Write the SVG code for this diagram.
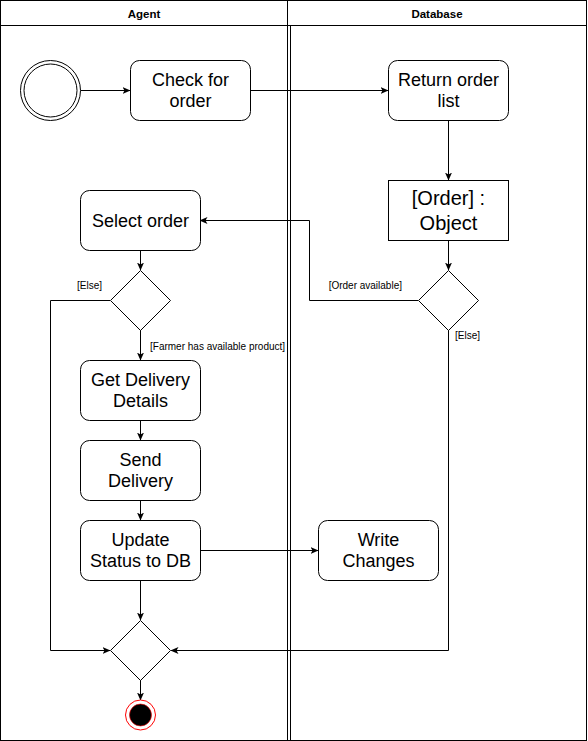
<svg xmlns="http://www.w3.org/2000/svg" width="588" height="741" viewBox="0 0 588 741">
  <style>
    .lane { fill: none; stroke: #000; stroke-width: 1; }
    .hdr { font-family: "Liberation Sans", Arial, sans-serif; font-size: 11.5px; font-weight: bold; fill: #000; text-anchor: middle; }
    .act { fill: #fff; stroke: #000; stroke-width: 1; }
    .txt { font-family: "Liberation Sans", Arial, sans-serif; font-size: 18px; fill: #000; text-anchor: middle; }
    .big { font-size: 20px; }
    .lbl { font-family: "Liberation Sans", Arial, sans-serif; font-size: 10px; fill: #000; }
    .edge { fill: none; stroke: #000; stroke-width: 1; }
    .arr { marker-end: url(#arrow); }
  </style>
  <defs>
    <marker id="arrow" viewBox="0 0 8 7" refX="7.5" refY="3.5" markerWidth="8" markerHeight="7" markerUnits="userSpaceOnUse" orient="auto">
      <path d="M0,0 L8,3.5 L0,7 L2,3.5 z" fill="#000"/>
    </marker>
  </defs>
  <rect width="588" height="741" fill="#fff"/>

  <!-- swimlanes -->
  <g id="lanes">
    <rect class="lane" x="0.5" y="0.5" width="586" height="740"/>
    <line class="lane" x1="0.5" y1="25.5" x2="586.5" y2="25.5"/>
    <line class="lane" x1="287.5" y1="0.5" x2="287.5" y2="740.5"/>
    <line class="lane" x1="290.5" y1="25.5" x2="290.5" y2="740.5"/>
    <text class="hdr" x="144" y="18">Agent</text>
    <text class="hdr" x="437" y="18">Database</text>
  </g>

  <!-- connectors -->
  <g id="connectors">
    <path class="edge arr" d="M80.5,90.5 H130"/>
    <path class="edge arr" d="M250,90.5 H388"/>
    <path class="edge arr" d="M448.5,120 V180"/>
    <path class="edge arr" d="M448.5,240 V270"/>
    <path class="edge arr" d="M418,300.5 H309.5 V220.5 H200"/>
    <path class="edge arr" d="M448.5,330 V650.5 H171"/>
    <path class="edge arr" d="M140.5,250 V270"/>
    <path class="edge arr" d="M110,300.5 H50.5 V650.5 H110"/>
    <path class="edge arr" d="M140.5,330 V360"/>
    <path class="edge arr" d="M140.5,420 V440"/>
    <path class="edge arr" d="M140.5,500 V520"/>
    <path class="edge arr" d="M200,550.5 H318"/>
    <path class="edge arr" d="M140.5,580 V620"/>
    <path class="edge arr" d="M140.5,680 V700"/>
    <text class="lbl" x="402" y="289" text-anchor="end">[Order available]</text>
    <text class="lbl" x="455" y="339">[Else]</text>
    <text class="lbl" x="77" y="289">[Else]</text>
    <text class="lbl" x="150" y="350">[Farmer has available product]</text>
  </g>

  <!-- nodes -->
  <g id="start">
    <circle cx="50.5" cy="90.5" r="30" fill="#fff" stroke="#000"/>
    <circle cx="50.5" cy="90.5" r="26.5" fill="none" stroke="#000"/>
  </g>
  <g id="check-order">
    <rect class="act" x="130.5" y="60.5" width="120" height="60" rx="9"/>
    <text class="txt" x="190.5" y="85.5">Check for</text>
    <text class="txt" x="190.5" y="107">order</text>
  </g>
  <g id="return-list">
    <rect class="act" x="388.5" y="60.5" width="120" height="60" rx="9"/>
    <text class="txt" x="448.5" y="85.5">Return order</text>
    <text class="txt" x="448.5" y="107">list</text>
  </g>
  <g id="order-object">
    <rect class="act" x="388.5" y="180.5" width="120" height="60"/>
    <text class="txt big" x="448.5" y="204.5">[Order] :</text>
    <text class="txt big" x="448.5" y="229.5">Object</text>
  </g>
  <g id="db-decision">
    <path class="act" d="M448.5,270.5 L478.5,300.5 L448.5,330.5 L418.5,300.5 Z"/>
  </g>
  <g id="select-order">
    <rect class="act" x="80.5" y="190.5" width="120" height="60" rx="9"/>
    <text class="txt" x="140.5" y="227">Select order</text>
  </g>
  <g id="agent-decision">
    <path class="act" d="M140.5,270.5 L170.5,300.5 L140.5,330.5 L110.5,300.5 Z"/>
  </g>
  <g id="get-delivery">
    <rect class="act" x="80.5" y="360.5" width="120" height="60" rx="9"/>
    <text class="txt" x="140.5" y="385.5">Get Delivery</text>
    <text class="txt" x="140.5" y="407">Details</text>
  </g>
  <g id="send-delivery">
    <rect class="act" x="80.5" y="440.5" width="120" height="60" rx="9"/>
    <text class="txt" x="140.5" y="465.5">Send</text>
    <text class="txt" x="140.5" y="487">Delivery</text>
  </g>
  <g id="update-status">
    <rect class="act" x="80.5" y="520.5" width="120" height="60" rx="9"/>
    <text class="txt" x="140.5" y="545.5">Update</text>
    <text class="txt" x="140.5" y="567">Status to DB</text>
  </g>
  <g id="write-changes">
    <rect class="act" x="318.5" y="520.5" width="120" height="60" rx="9"/>
    <text class="txt" x="378.5" y="545.5">Write</text>
    <text class="txt" x="378.5" y="567">Changes</text>
  </g>
  <g id="merge">
    <path class="act" d="M140.5,620.5 L170.5,650.5 L140.5,680.5 L110.5,650.5 Z"/>
  </g>
  <g id="end">
    <circle cx="140.5" cy="715" r="15" fill="#fff" stroke="#ff0000"/>
    <circle cx="140.5" cy="715" r="11" fill="#000" stroke="#ff0000" stroke-width="0.6"/>
  </g>
</svg>
